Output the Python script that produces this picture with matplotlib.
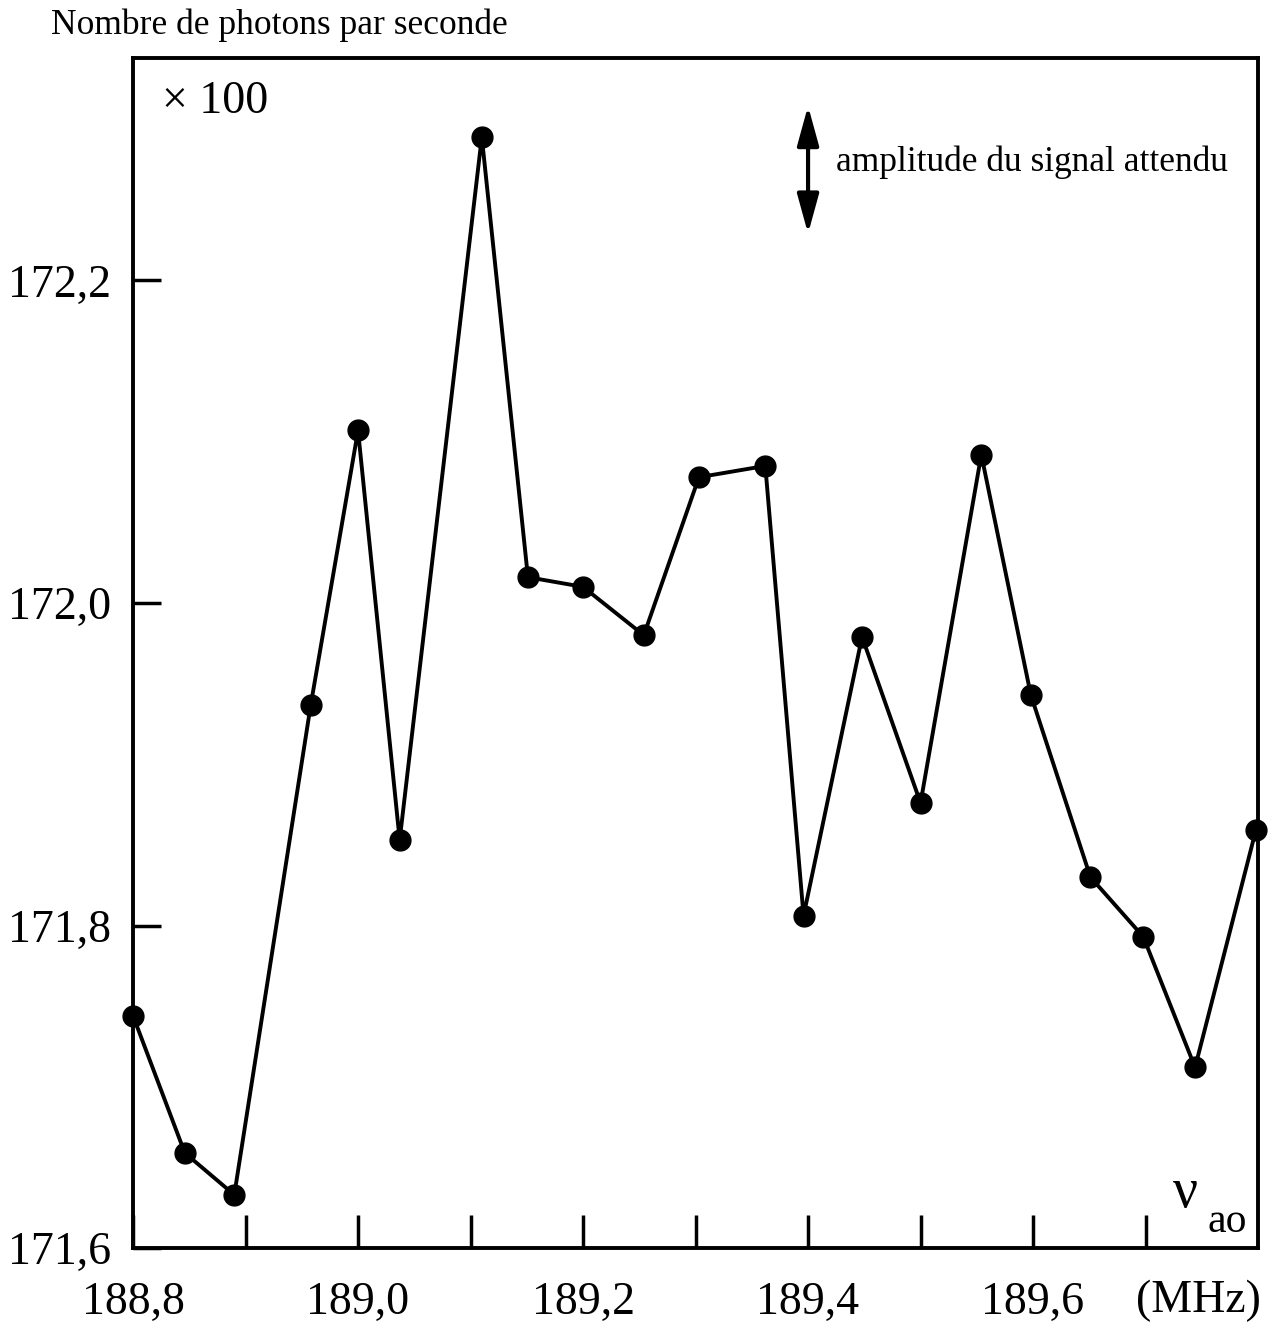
import matplotlib

matplotlib.use("Agg")
import matplotlib.pyplot as plt

# frequency of the acousto-optic modulator (MHz) and count rate (x100 photons/s)
freq = [188.800, 188.846, 188.890, 188.958, 189.000, 189.037, 189.110, 189.151,
        189.200, 189.254, 189.303, 189.362, 189.396, 189.448, 189.500, 189.554,
        189.598, 189.651, 189.698, 189.744, 189.798]
counts = [171.744, 171.659, 171.633, 171.937, 172.107, 171.853, 172.289, 172.016,
          172.010, 171.980, 172.078, 172.085, 171.806, 171.979, 171.876, 172.092,
          171.943, 171.830, 171.793, 171.712, 171.859]

x_major = [188.8, 189.0, 189.2, 189.4, 189.6]
x_minor = [188.9, 189.1, 189.3, 189.5, 189.7]
y_major = [171.6, 171.8, 172.0, 172.2]

plt.rcParams["font.family"] = ["Liberation Serif", "DejaVu Serif"]

fig = plt.figure(figsize=(12.78, 13.26), dpi=100)
ax = fig.add_axes([0.1041, 0.0588, 0.8803, 0.8975])

ax.plot(freq, counts, color="black", lw=2.8, marker="o", ms=15, clip_on=False)

ax.set_xlim(188.8, 189.8)
ax.set_ylim(171.6, 172.338)

ax.set_xticks(x_major)
ax.set_xticklabels([f"{v:.1f}".replace(".", ",") for v in x_major])
ax.set_xticks(x_minor, minor=True)
ax.set_yticks(y_major)
ax.set_yticklabels([f"{v:.1f}".replace(".", ",") for v in y_major])

ax.tick_params(axis="both", which="both", direction="in", width=2.5, labelsize=33)
ax.tick_params(axis="x", which="both", length=24, pad=24)
ax.tick_params(axis="y", which="major", length=20, pad=16)
for s in ax.spines.values():
    s.set_linewidth(2.8)

fig.text(0.04, 0.981, "Nombre de photons par seconde", fontsize=25.5, va="center", ha="left")
ax.text(0.026, 0.963, "\u00d7 100", transform=ax.transAxes, fontsize=33, va="center", ha="left")

# expected signal amplitude indicator
ax.annotate("", xy=(0.6, 0.962), xytext=(0.6, 0.85), xycoords="axes fraction",
            arrowprops=dict(arrowstyle="<|-|>,head_length=0.8,head_width=0.22",
                            color="black", lw=3, mutation_scale=30))
ax.text(0.625, 0.912, "amplitude du signal attendu", transform=ax.transAxes,
        fontsize=25.5, va="center", ha="left")

ax.text(0.924, 0.046, "\u03bd", transform=ax.transAxes, fontsize=40, va="center", ha="left")
ax.text(0.955, 0.022, "ao", transform=ax.transAxes, fontsize=30, va="center", ha="left")
fig.text(0.938, 0.019, "(MHz)", fontsize=33, va="center", ha="center")

plt.savefig("out.png", dpi=100)
